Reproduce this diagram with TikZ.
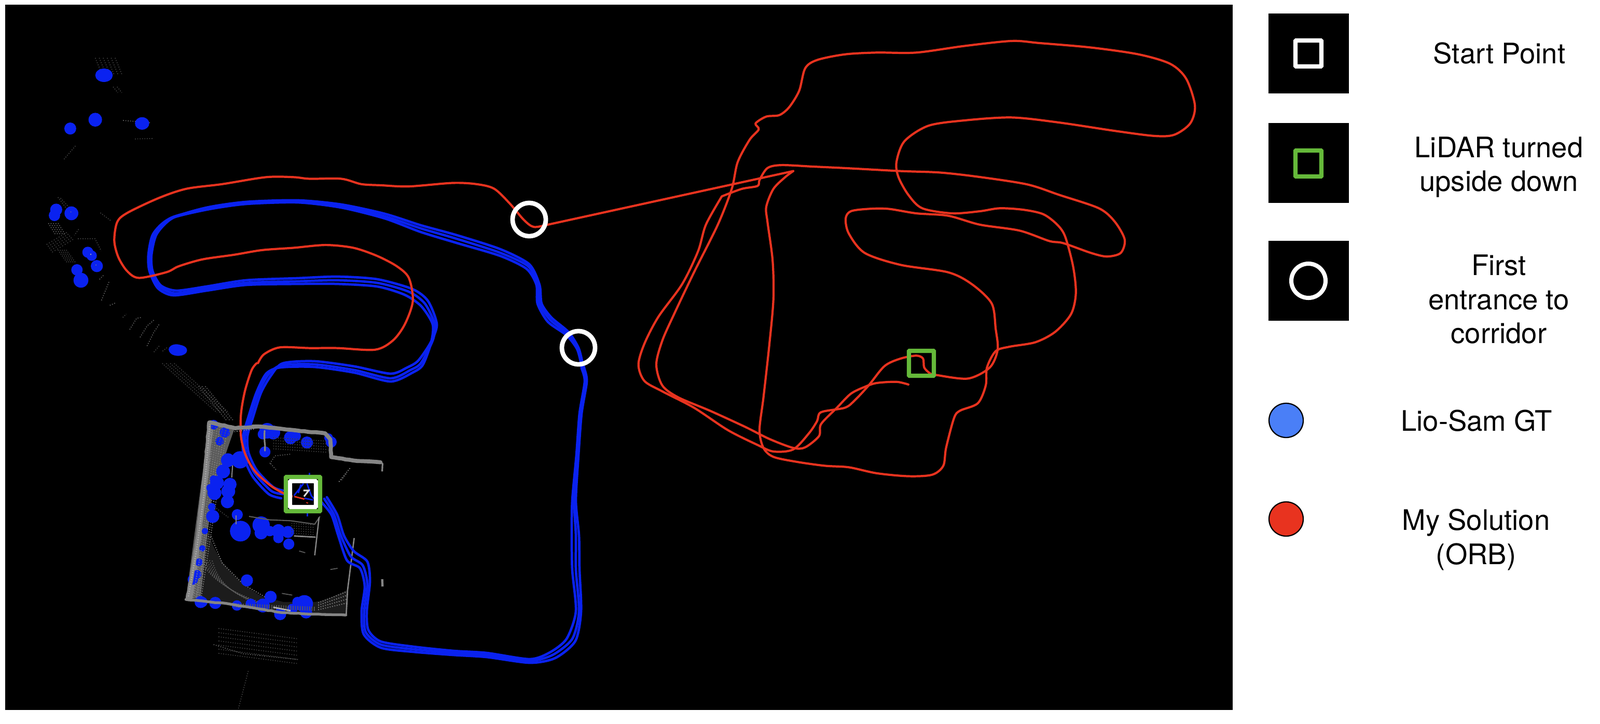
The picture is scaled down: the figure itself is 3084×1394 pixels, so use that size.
\documentclass[tikz,border=0pt]{standalone}
\usepackage{fontspec}
\usetikzlibrary{decorations.pathmorphing}
\setmainfont{TeX Gyre Heros}
\definecolor{myred}{HTML}{E8331F}
\definecolor{myblue}{HTML}{0A22F0}
\definecolor{mygreen}{HTML}{65B93A}
\definecolor{legblue}{HTML}{4A7FF7}
\colorlet{gA}{white!24!black}
\colorlet{gB}{white!36!black}
\colorlet{gC}{white!52!black}
\colorlet{gD}{white!68!black}
\tikzset{
 rough/.style={decorate,decoration={random steps,segment length=4pt,amplitude=.35pt}},
 redpath/.style={draw=myred,line width=2.4pt,line join=round,line cap=round},
 bluepath/.style={draw=myblue,line width=2.7pt,line join=round,line cap=round},
 dot/.style={fill=myblue},
 whitebox/.style={draw=white,line width=4.6pt,rounded corners=0.6pt},
 greenbox/.style={draw=mygreen,line width=4.8pt,rounded corners=0.6pt},
 ring/.style={draw=white,line width=5pt},
 legend/.style={font=\fontsize{31}{37.3}\selectfont,align=center,text=black,inner sep=0pt},
 legdot/.style={draw=black,line width=1.3pt},
 cloud/.style={dash pattern=on 1pt off 1.6pt,line width=1pt},
 wall/.style={line join=round,line cap=round,rough},
}
\begin{document}
\begin{tikzpicture}[x=0.02cm,y=-0.02cm]
\useasboundingbox (0,0) rectangle (3084,1394);
\fill[white] (0,0) rectangle (3084,1394);
\fill[black] (10,9) rectangle (2376,1368);

% ---- far point cloud, top (zoom-1 coordinates)
\begin{scope}[x=0.0153cm,y=-0.00893cm]
 \foreach \a in {240,250,260,270,280,290} \draw[gA,cloud] (\a,250) -- (\a+18,325);
 \foreach \a in {285,295} \draw[gA,cloud] (\a,375) -- (\a+12,400);
 \draw[gB,cloud] (310,520) -- (380,530);
 \draw[gA,cloud] (340,600) -- (385,598);
 \draw[gA,cloud] (190,630) -- (160,690);
 \fill[dot] (262,325) circle [x radius=22,y radius=29];
 \fill[dot] (240,517) circle [x radius=17,y radius=30];
 \fill[dot] (177,555) circle [x radius=15,y radius=26];
 \fill[dot] (358,533) circle [x radius=18,y radius=27];
\end{scope}

% ---- far point cloud, left (crop at 70,380, 3x)
\begin{scope}[shift={(70,380)},x=0.006667cm,y=-0.006667cm]
 \foreach \d in {0,14,...,112} \draw[gA,cloud] (60+\d,270-\d*.6) -- (100+\d,325-\d*.7);
 \foreach \d in {0,14,...,56} \draw[gB,cloud] (70+\d,150) -- (110+\d,215);
 \foreach \d in {0,12,...,48} \draw[gA,cloud] (125+\d,305) -- (180+\d,380);
 \draw[gA,cloud] (125,0) -- (200,100);
 \draw[gA,cloud] (140,5) -- (200,70);
 \draw[gA,cloud] (240,240) -- (340,240) -- (375,310);
 \draw[gA,cloud] (370,90) -- (430,135);
 \draw[gA,cloud] (245,185) -- (220,220);
 \draw[gB,cloud] (420,490) -- (375,600);
 \draw[gB,cloud] (365,475) -- (390,450);
 \draw[gB,cloud] (425,625) -- (460,610);
 \draw[gA,cloud] (500,695) -- (520,675);
 \draw[gB,cloud] (540,765) -- (580,700) -- (605,695);
 \draw[gB,cloud] (600,810) -- (640,745) -- (680,710);
 \draw[gB,cloud] (640,860) -- (680,780) -- (710,735);
 \draw[gA,cloud] (680,895) -- (715,855);
 \draw[gA,cloud] (730,890) -- (755,870);
 \foreach \c/\y/\r in {115/72/35,105/105/33,203/93/40,298/318/32,320/338/30,350/398/35,235/420/33,258/480/43}
   \fill[dot] (\c,\y) circle (\r);
 \fill[dot] (820,885) circle [x radius=52,y radius=32];
 \fill[dot] (810,880) circle [x radius=45,y radius=30];
 \fill[gD] (315,330) circle (4); \fill[gC] (200,85) circle (2.5); \fill[gC] (345,392) circle (3);
\end{scope}

% ---- stripe towards the building and the patch below (zoom-2 coordinates)
\begin{scope}[shift={(300,700)},x=0.012755cm,y=-0.00885cm]
 \foreach \d in {0,12,24,36} \draw[gA,cloud] (20+\d,0) -- (185+\d,215);
 \foreach \d in {0,10,20} \draw[gB,cloud] (130+\d,100) -- (215+\d,250);
 \foreach \d in {0,18,36,54,72,90,108} \draw[gA,cloud] (190,1155+\d) -- (430,1200+\d);
 \draw[gB,cloud] (175,1225) -- (265,1265) -- (430,1290);
 \draw[gA,cloud] (280,1340) -- (250,1505);
\end{scope}

% ---- building (crop at 340,790, 3x)
\begin{scope}[shift={(340,790)},x=0.006667cm,y=-0.006667cm]
 % floor scan arcs
 \fill[white!11!black] (185,700) .. controls (220,850) and (330,990) .. (500,1080) -- (620,1110) -- (800,1110) .. controls (860,1100) and (930,1070) .. (990,1040) -- (985,1185) -- (600,1170) -- (55,1095) -- cycle;
 \foreach \d in {0,22,...,110}
   \draw[gB,cloud] (130+\d*.7,860+\d*.1) .. controls (190+\d*.4,960+\d*.1) and (280+\d*.1,1040+\d*.1) .. (480-\d*.1,1110+\d*.1);
 \foreach \d in {0,22,...,66} \draw[gC,cloud] (820,1115+\d*.6) -- (985,1050+\d);
 \draw[gC,cloud] (200,730) -- (265,885) -- (390,1010) -- (520,1085);
 % left wall
 \fill[gB] (190,70) -- (335,110) -- (295,225) -- (205,500) -- (170,800) -- (140,1085) -- (55,1095) -- cycle;
 \foreach \d in {14,28,...,110} \draw[gC,cloud] (195+\d,80+\d*.3) -- (70+\d*.75,1085);
 \draw[gC,wall,line width=6pt] (200,75) -- (165,400) -- (120,800) -- (78,1085);
 % blue on the wall and the dots
 \foreach \c/\y/\r in {215/85/28,525/120/45,500/140/30,560/130/40,660/160/38,690/150/30,755/188/35,880/160/25,895/185/32,512/242/32,368/288/50,298/290/40,270/355/40,235/420/40,310/430/38,300/470/40,220/480/40,295/530/38,210/615/38,352/605/32,370/700/60,345/700/35,395/700/35,490/665/50,490/710/38,540/700/30,590/700/40,590/740/30,645/705/35,650/775/32,408/985/35,140/1110/35,225/1115/35,350/1130/30,545/1080/35,500/1130/40,430/1120/30,600/1180/35,700/1110/30,740/1120/50,750/1170/35,670/1150/30,95/980/30,150/1110/30,120/950/25,130/880/22,150/800/18,165/700/18,205/560/22,195/450/22,215/400/22,280/130/30,250/180/25}
   \fill[dot] (\c,\y) circle (\r);
 % returns drawn over the dots
 \foreach \d in {0,20,40,60,80,100} \draw[gB,cloud] (210+\d,80+\d*.3) -- (170+\d*.8,300);
 \foreach \d in {0,20,40} \draw[gC,cloud] (75+\d,1085) -- (125+\d,800);
 \foreach \d in {0,20,40,60} \draw[gB,cloud] (330,1120+\d*.3) -- (800,1140+\d*.3);
 \draw[gC,wall,line width=4.5pt] (190,72) -- (155,500) -- (115,800) -- (65,1090);
 \foreach \d in {8,22} \draw[gD,cloud] (190+\d*.2,80) -- (155+\d*.2,500) -- (115+\d*.2,800) -- (65+\d*.2,1085);
 % top wall and steps
 \draw[gC,wall,line width=4.4pt] (195,72) -- (340,105) -- (470,95) -- (860,135) -- (890,170) -- (895,272) -- (1050,295) -- (1180,302);
 \draw[gC,line width=1.8pt,line join=round] (1175,298) -- (1192,310) -- (1190,355);
 % bottom wall
 \draw[gC,wall,line width=3pt] (55,1095) -- (300,1120) -- (600,1170) -- (800,1180) -- (980,1185);
 \draw[gD,line width=1.6pt] (560,1140) -- (660,1160);
 % thin east wall
 \draw[gC,line width=1.5pt] (982,1185) -- (990,1040) -- (1028,740);
 % inner clutter
 \draw[gC,wall,line width=1.8pt] (510,120) -- (512,235);
 \draw[gC,line width=1.2pt] (325,320) -- (320,390);
 \draw[gC,line width=1.2pt] (345,610) -- (345,660);
 \draw[gB,line width=1.2pt] (420,615) -- (540,635) -- (660,640) -- (800,660) -- (830,615);
 \draw[gC,line width=1.4pt] (825,620) -- (800,840);
 \draw[gC,line width=1.6pt] (680,728) -- (805,735);
 \foreach \d in {0,14,28,42,56} \draw[gA,cloud] (665,655+\d) -- (800,665+\d);
 \foreach \d in {0,16,32,48,64} \draw[gA,cloud] (560,160+\d) -- (870,180+\d);
 \draw[gA,cloud] (220,560) -- (300,620);
 \draw[gB,cloud] (540,310) -- (570,265) -- (660,255);
 \draw[gB,cloud] (545,310) -- (580,350);
 \draw[gC,cloud] (940,415) -- (1005,335);
 \draw[gB,cloud] (955,405) -- (985,365);
 \draw[gB,line width=1pt] (890,922) -- (932,915);
 \draw[gB,line width=1pt] (710,815) -- (745,825);
 \draw[gC,line width=2.5pt] (1190,978) -- (1192,1020);
 \draw[gB,line width=1pt] (610,1060) -- (670,1070);
\end{scope}

% ---- Lio-Sam trajectory (three strands)
\draw[bluepath] plot[smooth,tension=.45] coordinates {(545,952)(523,946)(491,912)(475,877)(472,842)(482,806)(498,757)(517,722)(542,704)(606,702)(683,713)(753,729)(791,713)(811,700)(834,656)(838,625)(819,585)(788,562)(727,545)(650,540)(574,542)(474,545)(398,556)(337,565)(306,551)(291,522)(289,491)(298,451)(329,420)(398,402)(474,391)(574,388)(658,397)(742,417)(811,440)(880,460)(964,487)(1018,513)(1037,549)(1040,585)(1060,616)(1094,643)(1113,670)(1121,700)(1123,709)(1129,735)(1119,797)(1113,877)(1107,965)(1110,1032)(1110,1098)(1116,1178)(1103,1231)(1065,1262)(1021,1273)(938,1262)(874,1258)(797,1251)(734,1242)(705,1218)(702,1178)(708,1125)(699,1089)(676,1072)(657,1032)(644,992)(625,961)};
\draw[bluepath] plot[smooth,tension=.45] coordinates {(545,945)(526,938)(495,906)(479,872)(477,840)(487,806)(503,757)(522,724)(545,700)(606,696)(683,706)(753,720)(785,708)(806,695)(830,660)(842,625)(825,580)(795,557)(727,538)(650,533)(574,536)(474,540)(398,552)(340,560)(310,550)(294,522)(292,491)(302,451)(333,420)(398,400)(474,389)(574,386)(658,394)(742,412)(811,434)(880,453)(964,480)(1020,509)(1040,549)(1044,585)(1063,612)(1096,640)(1115,670)(1123,700)(1126,709)(1131,735)(1121,797)(1115,877)(1110,965)(1116,1032)(1117,1098)(1120,1178)(1109,1235)(1070,1268)(1021,1277)(938,1266)(874,1262)(797,1256)(734,1248)(701,1222)(697,1178)(703,1130)(694,1095)(669,1080)(652,1032)(639,992)(620,968)};
\draw[bluepath] plot[smooth,tension=.45] coordinates {(542,960)(518,952)(487,918)(470,880)(468,842)(478,806)(494,757)(513,720)(540,708)(606,707)(683,718)(753,735)(795,718)(815,703)(831,660)(834,625)(812,590)(780,568)(727,552)(650,547)(574,547)(474,549)(398,560)(334,569)(304,555)(288,522)(286,491)(295,451)(326,422)(398,404)(474,393)(574,390)(658,400)(742,421)(811,447)(880,468)(964,493)(1015,518)(1034,549)(1036,585)(1056,620)(1092,646)(1112,672)(1120,700)(1121,709)(1127,735)(1117,797)(1111,877)(1103,965)(1102,1032)(1103,1098)(1110,1178)(1092,1231)(1060,1257)(1021,1270)(938,1258)(874,1254)(797,1246)(734,1236)(710,1214)(707,1178)(713,1120)(708,1082)(682,1062)(663,1032)(650,992)(630,958)};

% ---- My Solution
\begin{scope}[shift={(300,700)},x=0.012755cm,y=-0.00885cm]
 \draw[redpath] plot[smooth,tension=.5] coordinates {(445,590)(415,580)(385,565)(345,530)(300,470)(272,400)(258,320)(258,220)(270,120)(290,30)(305,0)};
\end{scope}
\begin{scope}[x=0.0153cm,y=-0.00893cm]
 \draw[redpath] plot[smooth,tension=.5] coordinates {(650,1568)(665,1530)(705,1500)(780,1503)(850,1503)(945,1510)(990,1470)(1020,1400)(1040,1300)(1030,1200)(1000,1150)(950,1105)(890,1070)(820,1058)(740,1070)(660,1080)(590,1100)(510,1120)(450,1150)(420,1175)(350,1200)(320,1170)(298,1110)(288,1040)(295,960)(320,920)(400,855)(470,815)(560,795)(670,765)(740,765)(780,772)(860,772)(910,795)(960,800)(1030,805)(1140,790)(1200,795)(1245,815)(1285,880)(1320,950)(1345,980)(1380,970)};
\end{scope}
\begin{scope}[shift={(1200,60)},x=0.0153cm,y=-0.01148cm]
 \draw[redpath] (-188,650) -- (430,470);
 \draw[redpath] plot[smooth,tension=.5] coordinates {(430,470)(410,490)(380,530)(362,590)(365,640)(378,770)(380,900)(370,1050)(355,1230)(345,1340)(355,1400)(380,1430)(440,1447)(510,1460)(570,1465)(640,1485)(720,1495)(780,1490)(808,1460)(815,1400)(835,1300)(850,1275)(895,1250)(915,1190)(918,1130)(940,1075)(975,1060)(1040,1045)(1090,1010)(1130,950)(1142,880)(1135,790)(1115,690)(1095,650)(1060,615)(1010,600)(950,595)(900,605)(830,612)(755,595)(720,550)(695,490)(690,440)(710,370)(770,318)(860,300)(980,290)(1100,307)(1240,335)(1340,352)(1390,348)(1430,310)(1442,250)(1420,160)(1380,110)(1300,78)(1180,55)(1050,40)(980,33)(860,50)(740,72)(640,72)(560,78)(490,97)(460,125)(445,200)(420,255)(395,282)(362,287)(335,310)(343,330)(320,365)(290,440)(275,530)(240,650)(180,810)(130,950)(100,1040)(85,1120)(100,1190)(140,1230)(220,1275)(310,1330)(370,1370)(430,1400)(460,1398)(495,1360)(500,1320)(540,1265)(575,1218)(610,1195)(640,1182)(690,1178)(720,1187)};
 \draw[redpath] plot[smooth,tension=.5] coordinates {(250,555)(300,530)(340,520)(345,500)(365,460)(400,450)(480,455)(560,460)(700,470)(800,475)(900,490)(1020,515)(1100,550)(1200,595)(1240,640)(1265,700)(1255,745)(1220,757)(1180,745)(1110,712)(1075,705)(1000,670)(900,650)(820,620)(740,612)(670,597)(620,597)(575,605)(562,630)(570,680)(610,745)(700,785)(820,810)(880,850)(930,915)(940,1000)(945,1070)(925,1130)(870,1167)(790,1155)(775,1150)(760,1130)(757,1100)(740,1090)(700,1100)(660,1125)(620,1190)(585,1240)(560,1265)(500,1280)(490,1310)(470,1350)(430,1405)(380,1412)(340,1390)(265,1340)(180,1265)(100,1210)(55,1175)(40,1120)(55,1050)(90,960)(150,850)(190,740)(210,650)(250,555)};
\end{scope}

% ---- wall over the trajectories, and the content of the start box
\begin{scope}[shift={(340,790)},x=0.006667cm,y=-0.006667cm]
 \draw[gC,wall,line width=4pt] (340,105) -- (470,95);
 \draw[gC,cloud] (335,125) -- (450,110);
\end{scope}

% ---- markers on the map
\fill[black] (564,931) rectangle (605,973);
\begin{scope}[shift={(340,790)},x=0.006667cm,y=-0.006667cm]
 \draw[myblue,line width=1.6pt] (680,495) -- (735,425);
 \draw[myblue,line width=1.6pt] (705,480) -- (720,430);
 \draw[myblue,line width=1.6pt] (755,425) -- (780,495) -- (795,512);
 \draw[myblue,line width=1.6pt] (740,510) -- (790,520);
 \draw[myblue,line width=1.6pt] (770,362) -- (770,400);
 \draw[myblue,line width=1.6pt] (757,570) -- (757,615);
 \draw[myred,line width=1.6pt] (682,500) -- (740,515);
 \draw[myred,line width=1pt] (750,535) -- (762,538);
 \draw[white!85!black,line width=1.8pt] (735,465) -- (765,465) -- (738,500);
\end{scope}
\node[whitebox,minimum size=1.0cm,inner sep=0pt] (startmark) at (584,952) {};
\node[greenbox,minimum size=1.32cm,inner sep=0pt] (flipmarka) at (584,952) {};
\node[greenbox,minimum size=0.96cm,inner sep=0pt] (flipmarkb) at (1776,700) {};
\node[ring,circle,minimum size=1.28cm,inner sep=0pt] (entrya) at (1020,423) {};
\node[ring,circle,minimum size=1.28cm,inner sep=0pt] (entryb) at (1115,670) {};

% ---- legend
\fill[black] (2445,26) rectangle (2600,180);
\fill[black] (2445,237) rectangle (2600,391);
\fill[black] (2445,464) rectangle (2600,618);
\node[whitebox,minimum size=1.0cm,inner sep=0pt] (legstart) at (2522,103) {};
\node[greenbox,minimum size=1.0cm,inner sep=0pt] (legflip) at (2522,315) {};
\node[ring,circle,minimum size=1.32cm,inner sep=0pt,line width=4.6pt] (legentry) at (2522,541) {};
\node[legdot,circle,fill=legblue,minimum size=1.32cm,inner sep=0pt] (leggt) at (2479,810) {};
\node[legdot,circle,fill=myred,minimum size=1.32cm,inner sep=0pt] (legmine) at (2479,1000) {};
\node[legend] (t1) at (2890,103) {Start Point};
\node[legend] (t2) at (2889,322) {LiDAR turned\\upside down};
\node[legend] (t3) at (2889,577) {First\\entrance to\\corridor};
\node[legend] (t4) at (2846,811) {Lio-Sam GT};
\node[legend] (t5) at (2845,1040) {My Solution\\(ORB)};
\end{tikzpicture}
\end{document}
